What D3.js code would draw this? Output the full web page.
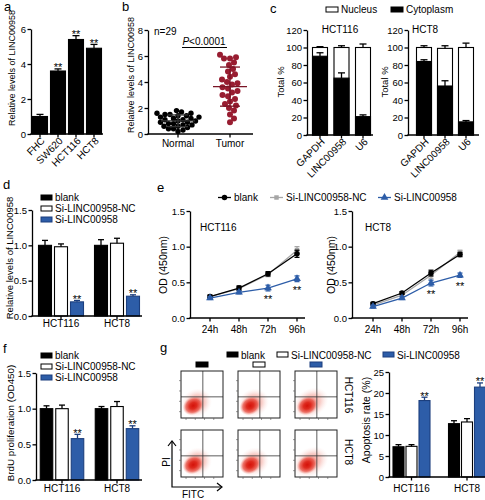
<!DOCTYPE html>
<html><head><meta charset="utf-8">
<script src="https://cdn.jsdelivr.net/npm/d3@7/dist/d3.min.js"></script>
<style>html,body{margin:0;padding:0;background:#fff}svg{display:block}</style>
</head><body>
<script>
// ===== DATA =====
const aCats = ["FHC","SW620","HCT116","HCT8"];
const aVals = [1.0, 3.6, 5.4, 4.9];
const aErr  = [0.12, 0.12, 0.22, 0.22];
const aSig  = ["", "**", "**", "**"];
const aTicks = [0,2,4,6];

const bGroups = ["Normal","Tumor"];
const bNormal = [1.8,1.7,1.6,1.6,1.5,1.5,1.4,1.4,1.3,1.3,1.2,1.2,1.1,1.1,1.0,1.0,0.9,0.9,0.8,0.8,0.7,0.7,0.6,0.6,0.5,0.4,0.4,0.3,0.2];
const bTumor  = [6.1,5.9,5.8,5.8,5.5,5.3,5.0,4.8,4.6,4.4,4.2,4.0,3.9,3.8,3.6,3.5,3.3,3.2,3.0,2.9,2.7,2.5,2.3,2.2,2.0,1.8,1.5,1.2,0.9];
const bTicks = [0,2,4,6,8];
const bNText = "n=29", bPText = "<0.0001";

const cGenes = ["GAPDH","LINC00958","U6"];
const cStack = ["Nucleus","Cytoplasm"];
const cCytoHCT116 = [90, 65, 21];
const cCytoErrHCT116 = [4, 6, 2];
const cTotalHCT116 = [100, 100, 100];
const cTotalErrHCT116 = [1, 2, 4];
const cCytoHCT8 = [84, 56, 15];
const cCytoErrHCT8 = [2, 6, 1.5];
const cTotalHCT8 = [100, 99, 100];
const cTotalErrHCT8 = [2, 3, 5];
const cTicks = [0,20,40,60,80,100,120];

const groups = ["blank","Si-LINC00958-NC","Si-LINC00958"];
const cells = ["HCT116","HCT8"];
const sigSeries = ["","","**"];
const dHCT116 = [1.00, 0.98, 0.20], dErrHCT116 = [0.07, 0.04, 0.02];
const dHCT8   = [1.00, 1.03, 0.28], dErrHCT8   = [0.08, 0.07, 0.02];
const dTicks = [0,0.5,1.0,1.5];

const eTimes = ["24h","48h","72h","96h"];
const eHCT116Blank=[0.30,0.42,0.62,0.90], eHCT116BlankErr=[0.02,0.03,0.03,0.05];
const eHCT116NC   =[0.30,0.41,0.61,0.95], eHCT116NCErr   =[0.02,0.03,0.03,0.05];
const eHCT116Si   =[0.28,0.36,0.42,0.55], eHCT116SiErr   =[0.02,0.02,0.04,0.04];
const eHCT8Blank  =[0.20,0.35,0.63,0.89], eHCT8BlankErr  =[0.02,0.02,0.04,0.03];
const eHCT8NC     =[0.18,0.32,0.60,0.92], eHCT8NCErr     =[0.02,0.02,0.05,0.03];
const eHCT8Si     =[0.16,0.28,0.49,0.60], eHCT8SiErr     =[0.02,0.02,0.04,0.03];
const eSig = ["","","**","**"];

const fHCT116=[1.00,1.00,0.58], fErrHCT116=[0.04,0.05,0.06];
const fHCT8  =[1.00,1.03,0.72], fErrHCT8  =[0.03,0.07,0.04];

const gHCT116=[7.2,7.3,18.2], gErrHCT116=[0.5,0.4,0.8];
const gHCT8  =[12.7,13.1,21.4], gErrHCT8  =[0.7,0.8,1.0];
const gTicks=[0,5,10,15,20,25];

// ===== STYLE / HELPERS =====
const FONT='"Liberation Sans", Arial, Helvetica, sans-serif';
const BLUE="#2d5da8", BLUE_D="#1c3f7e", RED="#981d31", GRAY="#a6a6a6", SW=1.3;
const svg=d3.select("body").append("svg").attr("width",485).attr("height",500).attr("font-family",FONT);
const defs=svg.append("defs");

function T(x,y,s,fs,o={}){
  const t=svg.append("text").attr("x",x).attr("y",y).attr("font-size",fs).attr("fill",o.fill||"#000").text(s);
  if(o.anchor) t.attr("text-anchor",o.anchor);
  if(o.rot!==undefined) t.attr("transform",`rotate(${o.rot},${x},${y})`);
  if(o.dy) t.attr("dy",o.dy);
  return t;
}
function yAxis(x,scale,ticks,fmt,fs=9.5){
  const g=svg.append("g").attr("transform",`translate(${x},0)`)
    .call(d3.axisLeft(scale).tickValues(ticks).tickFormat(fmt).tickSize(3.5).tickSizeOuter(0).tickPadding(1.5));
  g.selectAll("path,line").attr("stroke","#000").attr("stroke-width",SW);
  g.selectAll("text").attr("font-size",fs).attr("font-family",FONT).attr("fill","#000");
  return g;
}
function xLine(y,x0,x1,pos){
  svg.append("line").attr("x1",x0-SW/2).attr("x2",x1).attr("y1",y).attr("y2",y).attr("stroke","#000").attr("stroke-width",SW);
  pos.forEach(p=>svg.append("line").attr("x1",p).attr("x2",p).attr("y1",y).attr("y2",y+3.5).attr("stroke","#000").attr("stroke-width",SW));
}
function errUp(x,y1,y2,color,cap=3.5){
  svg.append("line").attr("x1",x).attr("x2",x).attr("y1",y1).attr("y2",y2).attr("stroke",color).attr("stroke-width",SW);
  svg.append("line").attr("x1",x-cap).attr("x2",x+cap).attr("y1",y2).attr("y2",y2).attr("stroke",color).attr("stroke-width",SW);
}
function bar(x,w,y0,y1,fill,stroke){
  svg.append("rect").attr("x",x-w/2).attr("y",Math.min(y0,y1)).attr("width",w).attr("height",Math.abs(y1-y0))
    .attr("fill",fill).attr("stroke",stroke).attr("stroke-width",1.1);
}
function stars(x,yTop,fs=11){ T(x,yTop+2.5,"**",fs,{anchor:"middle"}); }
const f1=d3.format(".1f"), fd=d3.format("d");
const seriesStyle=[{fill:"#000",stroke:"#000",err:"#000"},{fill:"#fff",stroke:"#000",err:"#000"},{fill:BLUE,stroke:BLUE_D,err:BLUE_D}];

// ===== PANEL LETTERS =====
[["a",4,11],["b",122,11],["c",270,13],["d",3,189],["e",157,192],["f",3,353],["g",160,352]]
  .forEach(([l,x,y])=>T(x,y,l,13));

// ===== PANEL A =====
{
  const y=d3.scaleLinear().domain([0,6]).range([134,29]);
  const x=d3.scalePoint().domain(aCats).range([31,103]).padding(0.5);
  aCats.forEach((c,i)=>{
    bar(x(c),15,y(0),y(aVals[i]),"#000","#000");
    errUp(x(c),y(aVals[i]),y(aVals[i]+aErr[i]),"#000");
    if(aSig[i]) stars(x(c),y(aVals[i]+aErr[i]));
  });
  yAxis(31,y,aTicks,fd);
  xLine(134,31,103,aCats.map(c=>x(c)));
  aCats.forEach(c=>T(x(c)+3,139,c,10,{anchor:"end",rot:-45,dy:"0.35em"}));
  T(12,68,"Relative levels of LINC00958",9,{anchor:"middle",rot:-90,dy:"0.35em"});
}

// ===== PANEL B =====
function swarm(vals,ys,r){
  const placed=[], out=[];
  vals.map((v,i)=>({v,i})).sort((p,q)=>p.v-q.v).forEach(p=>{
    const yy=ys(p.v); let off=0;
    for(let k=0;k<300;k++){
      const c=(k%2?1:-1)*Math.ceil(k/2)*0.5;
      if(placed.every(q=>(q.x-c)**2+(q.y-yy)**2>=(2*r*0.92)**2)){off=c;break;}
    }
    placed.push({x:off,y:yy}); out[p.i]=off;
  });
  return out;
}
{
  const y=d3.scaleLinear().domain([0,8]).range([134,30]);
  const x=d3.scalePoint().domain(bGroups).range([178,230]);
  const sets=[{vals:bNormal,c:"#000",g:"Normal",r:2.7},{vals:bTumor,c:RED,g:"Tumor",r:3.0}];
  sets.forEach(s=>{
    const offs=swarm(s.vals,y,s.r);
    svg.append("g").selectAll("circle").data(s.vals).join("circle")
      .attr("cx",(d,i)=>x(s.g)+offs[i]).attr("cy",d=>y(d)).attr("r",s.r).attr("fill",s.c);
    const m=d3.mean(s.vals), sd=d3.deviation(s.vals), cx=x(s.g);
    const lc=s.g==="Tumor"?"#7a1526":"#333";
    svg.append("line").attr("x1",cx-17).attr("x2",cx+17).attr("y1",y(m)).attr("y2",y(m)).attr("stroke",lc).attr("stroke-width",SW);
    [m-sd,m+sd].forEach(v=>svg.append("line").attr("x1",cx-10).attr("x2",cx+10).attr("y1",y(v)).attr("y2",y(v)).attr("stroke",lc).attr("stroke-width",SW));
    svg.append("line").attr("x1",cx).attr("x2",cx).attr("y1",y(m-sd)).attr("y2",y(m+sd)).attr("stroke",lc).attr("stroke-width",SW);
  });
  yAxis(148,y,bTicks,fd);
  xLine(134,148,253,bGroups.map(g=>x(g)));
  bGroups.forEach(g=>T(x(g),147,g,10,{anchor:"middle"}));
  T(131,75,"Relative levels of LINC00958",9,{anchor:"middle",rot:-90,dy:"0.35em"});
  T(154,35,bNText,10);
  const pt=T(204,45,"",10,{anchor:"middle"});
  pt.append("tspan").attr("font-style","italic").text("P");
  pt.append("tspan").text(bPText);
  svg.append("line").attr("x1",182).attr("x2",227).attr("y1",47.5).attr("y2",47.5).attr("stroke","#000").attr("stroke-width",1.1);
}

// ===== PANEL C =====
{
  svg.append("rect").attr("x",326).attr("y",7).attr("width",12).attr("height",5).attr("fill","#fff").attr("stroke","#000").attr("stroke-width",1);
  T(341,12.5,cStack[0],10);
  svg.append("rect").attr("x",391).attr("y",7).attr("width",12).attr("height",5).attr("fill","#000").attr("stroke","#000").attr("stroke-width",1);
  T(406,12.5,cStack[1],10);
  const y=d3.scaleLinear().domain([0,120]).range([135,30]);
  function cPanel(axisX,axisEnd,xr,cyto,cytoErr,tot,totErr,title,titleX){
    const x=d3.scalePoint().domain(cGenes).range(xr);
    cGenes.forEach((g,i)=>{
      bar(x(g),15,y(0),y(tot[i]),"#fff","#000");
      errUp(x(g),y(tot[i]),y(tot[i]+totErr[i]),"#000");
      bar(x(g),15,y(0),y(cyto[i]),"#000","#000");
      errUp(x(g),y(cyto[i]),y(cyto[i]+cytoErr[i]),"#000");
    });
    yAxis(axisX,y,cTicks,fd);
    xLine(135,axisX,axisEnd,cGenes.map(g=>x(g)));
    cGenes.forEach(g=>T(x(g)+3,140,g,10,{anchor:"end",rot:-45,dy:"0.35em"}));
    T(titleX,33,title,10,{anchor:"middle"});
  }
  cPanel(307,373,[320,363],cCytoHCT116,cCytoErrHCT116,cTotalHCT116,cTotalErrHCT116,"HCT116",340);
  cPanel(408,479,[424,466],cCytoHCT8,cCytoErrHCT8,cTotalHCT8,cTotalErrHCT8,"HCT8",425);
  T(281,82,"Total %",9.5,{anchor:"middle",rot:-90,dy:"0.35em"});
  T(385,82,"Total %",9.5,{anchor:"middle",rot:-90,dy:"0.35em"});
}

// ===== GROUPED BAR HELPER (d, f, g) =====
function legendRows(x,ycs,fs=10){
  groups.forEach((g,i)=>{
    const s=seriesStyle[i];
    svg.append("rect").attr("x",x).attr("y",ycs[i]-2.5).attr("width",11).attr("height",5).attr("fill",s.fill).attr("stroke",s.stroke).attr("stroke-width",1);
    T(x+14,ycs[i]+3.6,g,fs);
  });
}
function grouped(o){
  const outer=d3.scalePoint().domain(cells).range(o.centers);
  const inner=d3.scalePoint().domain(groups).range([-o.dx,o.dx]);
  cells.forEach((c,ci)=>{
    groups.forEach((g,gi)=>{
      const v=o.vals[ci][gi], e=o.errs[ci][gi], s=seriesStyle[gi], cx=outer(c)+inner(g);
      bar(cx,o.w,o.y(0),o.y(v),s.fill,s.stroke);
      errUp(cx,o.y(v),o.y(v+e),s.err,3);
      if(sigSeries[gi]) stars(cx,o.y(v+e));
    });
  });
  yAxis(o.axisX,o.y,o.ticks,o.fmt);
  xLine(o.y(0),o.axisX,o.axisEnd,cells.map(c=>outer(c)));
  cells.forEach(c=>T(outer(c),o.labY,c,10,{anchor:"middle"}));
}

// ===== PANEL D =====
grouped({y:d3.scaleLinear().domain([0,1.5]).range([316,210]),centers:[61,117],dx:16,w:13,
  vals:[dHCT116,dHCT8],errs:[dErrHCT116,dErrHCT8],axisX:32,axisEnd:142,ticks:dTicks,fmt:f1,labY:327});
legendRows(41,[197.5,208.5,219.5]);
T(10,258,"Relative levels of LINC00958",9.5,{anchor:"middle",rot:-90,dy:"0.35em"});

// ===== PANEL E =====
{
  const y=d3.scaleLinear().domain([0,1.5]).range([318,211]);
  const sym={circle:d3.symbol().type(d3.symbolCircle).size(24)(),
             square:d3.symbol().type(d3.symbolSquare).size(20)(),
             triangle:d3.symbol().type(d3.symbolTriangle).size(26)()};
  function ePanel(axisX,axisEnd,xr,bl,blE,nc,ncE,si,siE,title,titleX){
    const x=d3.scalePoint().domain(eTimes).range(xr);
    const ser=[{v:nc,e:ncE,c:GRAY,m:"square"},{v:bl,e:blE,c:"#000",m:"circle"},{v:si,e:siE,c:BLUE,m:"triangle"}];
    ser.forEach(s=>{
      const line=d3.line().x((d,i)=>x(eTimes[i])).y(d=>y(d));
      svg.append("path").attr("d",line(s.v)).attr("fill","none").attr("stroke",s.c).attr("stroke-width",SW);
      s.v.forEach((v,i)=>{
        const cx=x(eTimes[i]);
        errUp(cx,y(v),y(v+s.e[i]),s.c,2.5);
        errUp(cx,y(v),y(v-s.e[i]),s.c,2.5);
        svg.append("path").attr("d",sym[s.m]).attr("transform",`translate(${cx},${y(v)})`).attr("fill",s.c);
      });
    });
    eSig.forEach((st,i)=>{ if(st) T(x(eTimes[i]),y(si[i])+15,st,11,{anchor:"middle"}); });
    yAxis(axisX,y,dTicks,f1);
    xLine(318,axisX,axisEnd,eTimes.map(t=>x(t)));
    eTimes.forEach(t=>T(x(t),333,t,10,{anchor:"middle"}));
    T(titleX,231,title,10);
  }
  ePanel(190,305,[210,297],eHCT116Blank,eHCT116BlankErr,eHCT116NC,eHCT116NCErr,eHCT116Si,eHCT116SiErr,"HCT116",200);
  ePanel(352,468,[373,460],eHCT8Blank,eHCT8BlankErr,eHCT8NC,eHCT8NCErr,eHCT8Si,eHCT8SiErr,"HCT8",365);
  T(163,265,"OD (450nm)",10.5,{anchor:"middle",rot:-90,dy:"0.35em"});
  T(331,265,"OD (450nm)",10.5,{anchor:"middle",rot:-90,dy:"0.35em"});
  const leg=[{x:218,c:"#000",m:"circle"},{x:270,c:GRAY,m:"square"},{x:378,c:BLUE,m:"triangle"}];
  leg.forEach((l,i)=>{
    svg.append("line").attr("x1",l.x).attr("x2",l.x+13).attr("y1",197.5).attr("y2",197.5).attr("stroke",l.c).attr("stroke-width",SW);
    svg.append("path").attr("d",sym[l.m]).attr("transform",`translate(${l.x+6.5},197.5)`).attr("fill",l.c);
    T(l.x+16,201,groups[i],10);
  });
}

// ===== PANEL F =====
grouped({y:d3.scaleLinear().domain([0,1.5]).range([480,373]),centers:[62,117],dx:15.5,w:12.5,
  vals:[fHCT116,fHCT8],errs:[fErrHCT116,fErrHCT8],axisX:36,axisEnd:142,ticks:dTicks,fmt:f1,labY:492});
legendRows(41,[355.5,366.5,377.5]);
T(11,423,"BrdU proliferation (OD450)",9.8,{anchor:"middle",rot:-90,dy:"0.35em"});

// ===== PANEL G: flow plots =====
{
  const lx=[227,277,383];
  groups.forEach((g,i)=>{
    const s=seriesStyle[i];
    svg.append("rect").attr("x",lx[i]).attr("y",352).attr("width",11).attr("height",5).attr("fill",s.fill).attr("stroke",s.stroke).attr("stroke-width",1);
    T(lx[i]+14,358.5,g,10);
  });
  const rg=defs.append("radialGradient").attr("id","blob");
  [[0,"#d41209",1],[0.35,"#dd2418",0.95],[0.7,"#e85044",0.75],[1,"#f19a8f",0]]
    .forEach(([o,c,a])=>rg.append("stop").attr("offset",o).attr("stop-color",c).attr("stop-opacity",a));
  const hg=defs.append("radialGradient").attr("id","halo");
  [[0,"#ea5f53",0.8],[0.55,"#f29d92",0.5],[1,"#fbe0dc",0]]
    .forEach(([o,c,a])=>hg.append("stop").attr("offset",o).attr("stop-color",c).attr("stop-opacity",a));
  const px=d3.scalePoint().domain(groups).range([181,295]);
  const py=d3.scalePoint().domain(cells).range([371,430]);
  const w=42,h=47;
  cells.forEach((c,ri)=>groups.forEach((g,gi)=>{
    const x0=px(g), y0=py(c), id=`clip${ri}${gi}`;
    defs.append("clipPath").attr("id",id).append("rect").attr("x",x0).attr("y",y0).attr("width",w).attr("height",h);
    const gg=svg.append("g").attr("clip-path",`url(#${id})`);
    gg.append("rect").attr("x",x0).attr("y",y0).attr("width",w).attr("height",h).attr("fill","#fff");
    const ext=gi===2?1.2:1;
    const hx=x0+w*0.37, hy=y0+h*0.68;
    gg.append("ellipse").attr("cx",hx).attr("cy",hy).attr("rx",w*0.38*ext).attr("ry",h*0.3)
      .attr("transform",`rotate(-30,${hx},${hy})`).attr("fill","url(#halo)");
    const bx=x0+w*0.29, by=y0+h*0.74;
    gg.append("ellipse").attr("cx",bx).attr("cy",by).attr("rx",w*0.26).attr("ry",h*0.19)
      .attr("transform",`rotate(-30,${bx},${by})`).attr("fill","url(#blob)");
    gg.append("line").attr("x1",x0+w*0.52).attr("x2",x0+w*0.52).attr("y1",y0).attr("y2",y0+h).attr("stroke","#333").attr("stroke-width",0.8);
    gg.append("line").attr("x1",x0).attr("x2",x0+w).attr("y1",y0+h*0.55).attr("y2",y0+h*0.55).attr("stroke","#333").attr("stroke-width",0.8);
    svg.append("rect").attr("x",x0).attr("y",y0).attr("width",w).attr("height",h).attr("fill","none").attr("stroke","#222").attr("stroke-width",1);
    [0.12,0.34,0.56,0.78].forEach(f=>{
      svg.append("line").attr("x1",x0-2).attr("x2",x0).attr("y1",y0+h*f+4).attr("y2",y0+h*f+4).attr("stroke","#555").attr("stroke-width",0.6);
      svg.append("line").attr("x1",x0+w*f).attr("x2",x0+w*f).attr("y1",y0+h).attr("y2",y0+h+2).attr("stroke","#555").attr("stroke-width",0.6);
    });
    if(ri===0){
      const s=seriesStyle[gi];
      svg.append("rect").attr("x",x0+w/2-6).attr("y",362).attr("width",12).attr("height",5).attr("fill",s.fill).attr("stroke",s.stroke).attr("stroke-width",1);
    }
  }));
  T(348,395,"HCT116",10,{anchor:"middle",rot:90,dy:"0.35em"});
  T(348,452,"HCT8",10,{anchor:"middle",rot:90,dy:"0.35em"});
  svg.append("path").attr("d","M172,442 V487 H221").attr("fill","none").attr("stroke","#000").attr("stroke-width",1.2);
  svg.append("path").attr("d","M168,446 L172,441 L176,446").attr("fill","none").attr("stroke","#000").attr("stroke-width",1.2);
  svg.append("path").attr("d","M217,483 L222,487 L217,491").attr("fill","none").attr("stroke","#000").attr("stroke-width",1.2);
  T(166,462,"PI",10,{anchor:"middle",rot:-90,dy:"0.35em"});
  T(193,498,"FITC",10,{anchor:"middle"});
}

// ===== PANEL G: apoptosis bars =====
grouped({y:d3.scaleLinear().domain([0,25]).range([477,372]),centers:[411.5,467],dx:13,w:11,
  vals:[gHCT116,gHCT8],errs:[gErrHCT116,gErrHCT8],axisX:389,axisEnd:485,ticks:gTicks,fmt:fd,labY:492});
T(366,420,"Apoptosis rate (%)",10.5,{anchor:"middle",rot:-90,dy:"0.35em"});
</script>
</body></html>
